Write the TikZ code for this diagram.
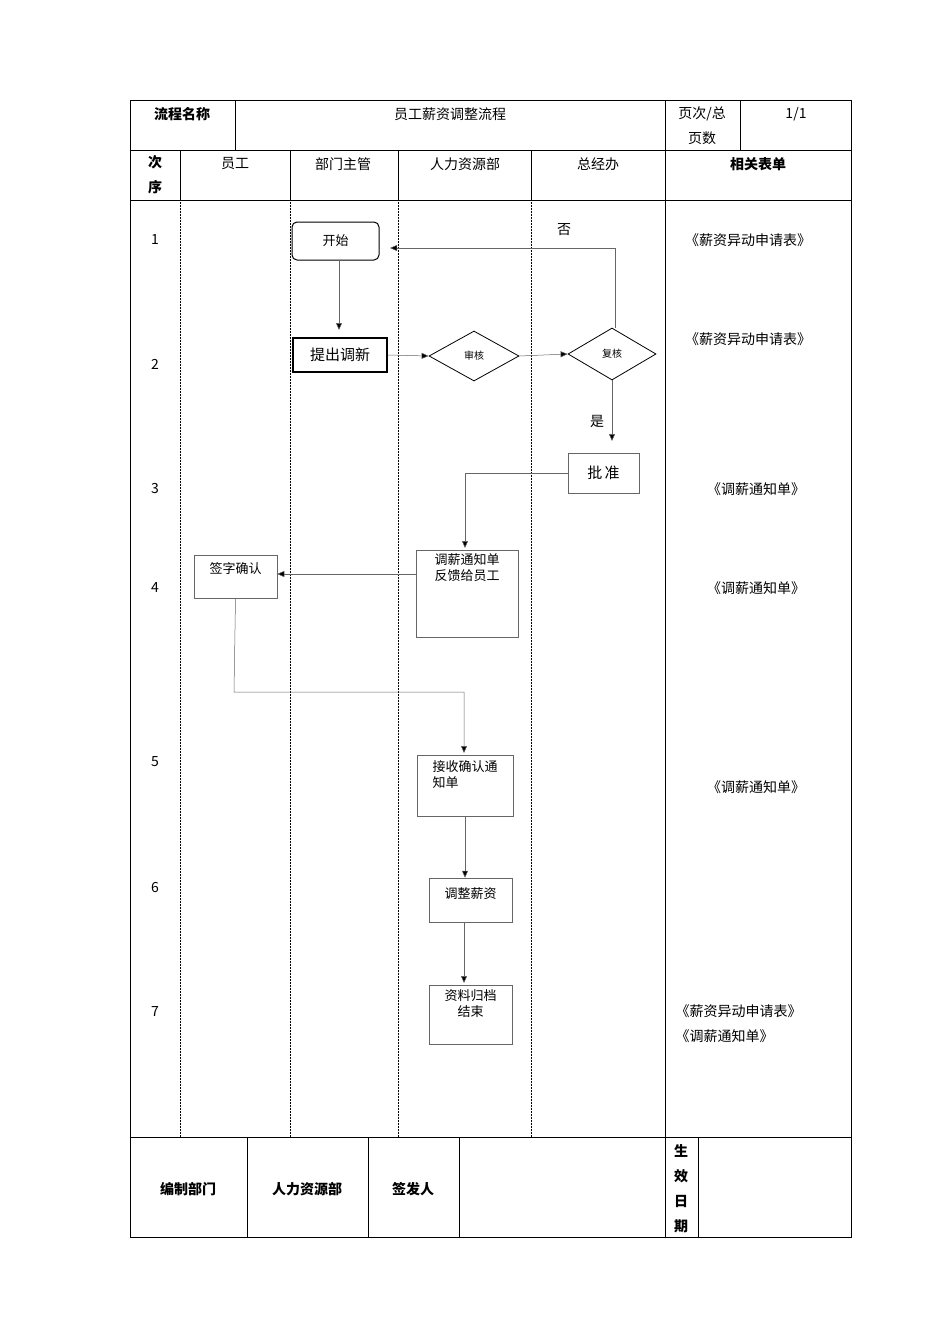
\documentclass[tikz,border=0pt]{standalone}
\usepackage{fontspec}
\setmainfont{Noto Sans CJK SC}
\usetikzlibrary{shapes.geometric,arrows.meta}
\begin{document}
\begin{tikzpicture}[x=1pt,y=-1pt,
 box/.style={draw=black!60,line width=0.5pt,inner sep=0pt,font=\fontsize{13}{16}\selectfont},
 dia/.style={draw,diamond,line width=0.8pt,aspect=1.8,inner sep=0pt,font=\fontsize{10}{12}\selectfont},
 con/.style={draw=black!60,line width=0.5pt,-{Triangle[length=7pt,width=6pt,fill=black]}},
 lbl/.style={font=\fontsize{14}{25}\selectfont},
 hb/.style={font=\fontsize{14}{25}\selectfont\bfseries},
 dot/.style={densely dotted,line width=0.5pt}]
\useasboundingbox (0,0) rectangle (950,1344);
% table
\draw[line width=0.8pt] (130,100) rectangle (851,1237);
\draw[line width=0.6pt] (130,150)--(851,150) (130,200)--(851,200) (130,1137)--(851,1137);
\draw[line width=0.6pt] (235,100)--(235,150) (665,100)--(665,200) (740,100)--(740,150)
 (180,150)--(180,200) (290,150)--(290,200) (398,150)--(398,200) (531,150)--(531,200);
\draw[line width=0.6pt] (665,200)--(665,1137);
\draw[dot] (180,200)--(180,1137) (290,200)--(290,1137) (398,200)--(398,1137) (531,200)--(531,1137);
\draw[line width=0.6pt] (247,1137)--(247,1237) (368,1137)--(368,1237) (459,1137)--(459,1237) (665,1137)--(665,1237) (698,1137)--(698,1237);
% header text
\node[hb] (h1) at (182,114) {流程名称};
\node[lbl] (h2) at (450,114) {员工薪资调整流程};
\node[lbl,align=center] (h3) at (702,126) {页次/总\\页数};
\node[lbl] (h4) at (796,114) {1/1};
\node[hb,align=center] (c0) at (155,175) {次\\序};
\node[lbl] (c1) at (235,164) {员工};
\node[lbl] (c2) at (343,164) {部门主管};
\node[lbl] (c3) at (465,164) {人力资源部};
\node[lbl] (c4) at (598,164) {总经办};
\node[hb] (c5) at (758,164) {相关表单};
% footer
\node[hb] (f1) at (188,1189) {编制部门};
\node[hb] (f2) at (307,1189) {人力资源部};
\node[hb] (f3) at (413,1189) {签发人};
\node[hb,align=center] (f4) at (681,1189) {生\\效\\日\\期};
% row numbers
\foreach \n/\y in {1/240,2/364,3/489,4/588,5/762,6/887,7/1011}
 \node[lbl] (r\n) at (155,\y) {\n};
% forms
\node[lbl] (m1) at (748,240) {《薪资异动申请表》};
\node[lbl] (m2) at (748,339) {《薪资异动申请表》};
\node[lbl] (m3) at (756,489) {《调薪通知单》};
\node[lbl] (m4) at (756,588) {《调薪通知单》};
\node[lbl] (m5) at (756,787) {《调薪通知单》};
\node[lbl,align=left,anchor=west] (m7) at (672,1024) {《薪资异动申请表》\\《调薪通知单》};
% flow nodes
\node[draw,rounded corners=5pt,line width=1pt,minimum width=87pt,minimum height=38pt,inner sep=0pt,font=\fontsize{13}{15}\selectfont] (start) at (335.5,241) {开始};
\node[draw,line width=1.4pt,minimum width=94pt,minimum height=34pt,inner sep=0pt,font=\fontsize{15}{17}\selectfont] (tj) at (340,355) {提出调新};
\node[dia,minimum width=90pt,minimum height=50pt] (sh) at (474,356) {审核};
\node[dia,minimum width=88pt,minimum height=52pt] (fh) at (612,354) {复核};
\node[box,minimum width=71pt,minimum height=40pt,font=\fontsize{15}{17}\selectfont] (pz) at (603.5,473) {批\,准};
\node[box,minimum width=102pt,minimum height=87pt,align=left,text depth=52pt] (tx) at (467,593.5) {调薪通知单\\反馈给员工};
\node[box,minimum width=83pt,minimum height=43pt,text depth=18pt] (qz) at (235.5,576.5) {签字确认};
\node[box,minimum width=96pt,minimum height=61pt,align=left,text depth=22pt] (js) at (465,785.5) {接收确认通\\知单};
\node[box,minimum width=83pt,minimum height=44pt,text depth=14pt] (tz) at (470.5,900) {调整薪资};
\node[box,minimum width=83pt,minimum height=59pt,align=center,text depth=22pt] (zl) at (470.5,1014.5) {资料归档\\结束};
% connectors
\draw[con] (339,260) -- (339,330);
\draw[con] (tj.east) -- (sh.west);
\draw[con] (sh.east) -- (fh.west);
\draw[con] (615,328) -- (615,248) -- (390,248);
\node[lbl] (no) at (564,230) {否};
\draw[con] (fh.south) -- (612,441);
\node[lbl] (yes) at (597,421) {是};
\draw[con] (pz.west) -- (465,473) -- (465,548);
\draw[con] (tx.west |- 0,574) -- (qz.east |- 0,574);
\draw[con] (qz.south) -- (234,692) -- (464,692) -- (464,753);
\draw[con] (js.south) -- (tz.north -| js.south);
\draw[con] (464,922) -- (464,983);
\end{tikzpicture}
\end{document}
